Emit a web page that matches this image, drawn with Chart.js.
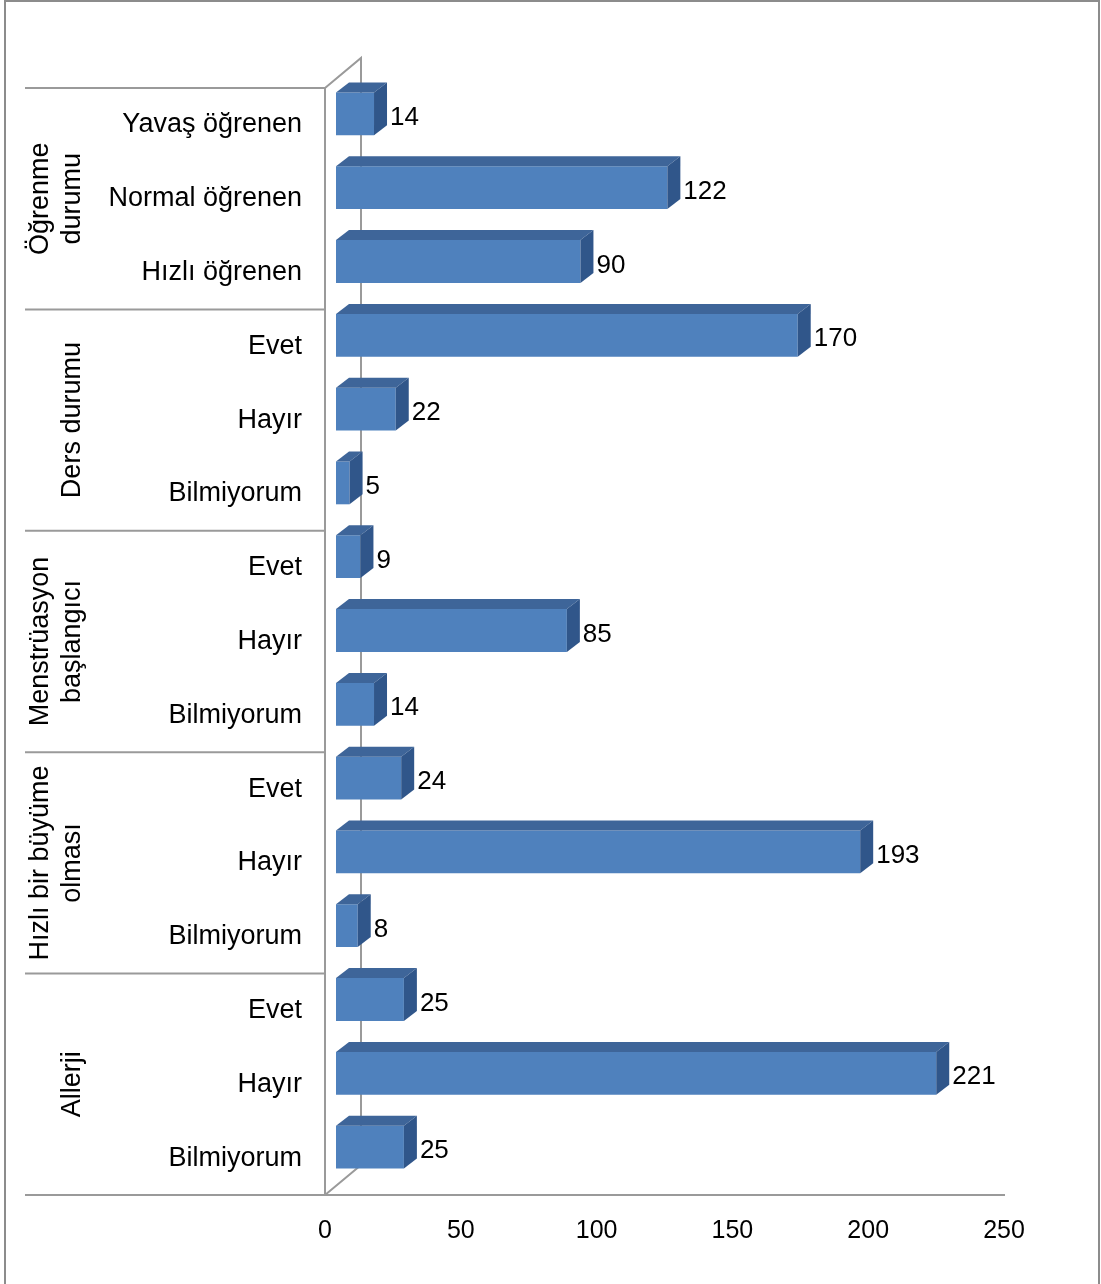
<!DOCTYPE html>
<html>
<head>
<meta charset="utf-8">
<script src="https://cdn.jsdelivr.net/npm/chart.js@4.4.1/dist/chart.umd.min.js"></script>
<style>
  html, body { margin: 0; padding: 0; background: #fff; }
  canvas { display: block; }
</style>
</head>
<body>
<canvas id="chart" width="1101" height="1284"></canvas>
<script>
// categories, top to bottom
const categories = [
    'Yavaş öğrenen', 'Normal öğrenen', 'Hızlı öğrenen',
    'Evet', 'Hayır', 'Bilmiyorum',
    'Evet', 'Hayır', 'Bilmiyorum',
    'Evet', 'Hayır', 'Bilmiyorum',
    'Evet', 'Hayır', 'Bilmiyorum'
];
const values = [14, 122, 90, 170, 22, 5, 9, 85, 14, 24, 193, 8, 25, 221, 25];

// group labels (each spans 3 categories)
const groups = [
    ['Öğrenme', 'durumu'],
    ['Ders durumu'],
    ['Menstrüasyon', 'başlangıcı'],
    ['Hızlı bir büyüme', 'olması'],
    ['Allerji']
];
const groupSize = [3, 3, 3, 3, 3];

const xTicks = [0, 50, 100, 150, 200, 250];

// 3d look
const SHIFT_X = 11, SHIFT_Y = -11;   // bars sit a bit behind the front plane
const DX = 13, DY = -10;             // bar depth
const WALL_X = 36, WALL_Y = -30;     // back wall depth
const LINE = '#9a9a9a';
const FONT = '"Liberation Sans", Arial, sans-serif';

const bar3d = {
    id: 'bar3d',
    beforeDraw(chart) {
        const ctx = chart.ctx;
        const area = chart.chartArea;
        const yScale = chart.scales.y;
        const band = (area.bottom - area.top) / categories.length;

        ctx.save();
        // outer frame
        ctx.strokeStyle = '#8c8c8c';
        ctx.lineWidth = 2;
        ctx.beginPath();
        ctx.moveTo(5, chart.height);
        ctx.lineTo(5, 1);
        ctx.lineTo(1099, 1);
        ctx.lineTo(1099, chart.height);
        ctx.stroke();

        ctx.strokeStyle = LINE;
        ctx.lineWidth = 2;
        // back wall
        ctx.beginPath();
        ctx.moveTo(area.left, area.top);
        ctx.lineTo(area.left + WALL_X, area.top + WALL_Y);
        ctx.lineTo(area.left + WALL_X, area.bottom + WALL_Y);
        ctx.lineTo(area.left, area.bottom);
        ctx.stroke();

        // front axes
        ctx.beginPath();
        ctx.moveTo(area.left, area.top);
        ctx.lineTo(area.left, area.bottom);
        ctx.moveTo(area.left - 7, area.bottom);
        ctx.lineTo(area.right + 1, area.bottom);
        ctx.stroke();

        // group separators and group labels
        let start = 0;
        ctx.beginPath();
        ctx.moveTo(25, area.top);
        ctx.lineTo(area.left, area.top);
        groups.forEach((g, gi) => {
            const end = start + groupSize[gi] - 1;
            const yEnd = yScale.getPixelForValue(end) + band / 2;
            ctx.moveTo(25, yEnd);
            ctx.lineTo(area.left, yEnd);
            start = end + 1;
        });
        ctx.stroke();

        ctx.fillStyle = '#000';
        ctx.font = '27px ' + FONT;
        ctx.textAlign = 'center';
        ctx.textBaseline = 'middle';
        start = 0;
        groups.forEach((g, gi) => {
            const end = start + groupSize[gi] - 1;
            const yc = (yScale.getPixelForValue(start) + yScale.getPixelForValue(end)) / 2;
            const cols = g.length === 2 ? [41, 73] : [73];
            g.forEach((line, li) => {
                ctx.save();
                ctx.translate(cols[li], yc);
                ctx.rotate(-Math.PI / 2);
                ctx.fillText(line, 0, 0);
                ctx.restore();
            });
            start = end + 1;
        });
        ctx.restore();
    },
    beforeDatasetsDraw(chart) {
        chart.ctx.save();
        chart.ctx.translate(SHIFT_X, SHIFT_Y);
    },
    afterDatasetsDraw(chart) {
        const ctx = chart.ctx;
        ctx.restore();
        const meta = chart.getDatasetMeta(0);
        ctx.save();
        meta.data.forEach((bar, i) => {
            const p = bar.getProps(['x', 'y', 'base', 'height'], true);
            const x0 = p.base + SHIFT_X;
            const x1 = p.x + SHIFT_X;
            const top = p.y - p.height / 2 + SHIFT_Y;
            const bot = p.y + p.height / 2 + SHIFT_Y;

            // top face
            ctx.fillStyle = '#3e6599';
            ctx.beginPath();
            ctx.moveTo(x0, top);
            ctx.lineTo(x0 + DX, top + DY);
            ctx.lineTo(x1 + DX, top + DY);
            ctx.lineTo(x1, top);
            ctx.closePath();
            ctx.fill();

            // side face
            ctx.fillStyle = '#30568a';
            ctx.beginPath();
            ctx.moveTo(x1, top);
            ctx.lineTo(x1 + DX, top + DY);
            ctx.lineTo(x1 + DX, bot + DY);
            ctx.lineTo(x1, bot);
            ctx.closePath();
            ctx.fill();

            // value label
            ctx.fillStyle = '#000';
            ctx.font = '26px ' + FONT;
            ctx.textAlign = 'left';
            ctx.textBaseline = 'middle';
            ctx.fillText(String(values[i]), x1 + DX + 3, p.y + SHIFT_Y + 4);
        });
        ctx.restore();
    }
};

new Chart(document.getElementById('chart'), {
    type: 'bar',
    data: {
        labels: categories,
        datasets: [{
            data: values,
            backgroundColor: '#4f81bd',
            borderWidth: 0,
            barPercentage: 0.58,
            categoryPercentage: 1,
            clip: false
        }]
    },
    options: {
        indexAxis: 'y',
        responsive: false,
        animation: false,
        devicePixelRatio: 1,
        layout: { padding: { top: 88, right: 97, left: 0, bottom: 0 } },
        plugins: {
            legend: { display: false },
            tooltip: { enabled: false }
        },
        scales: {
            x: {
                min: 0,
                max: 250,
                afterFit(scale) { scale.height = 89; },
                afterBuildTicks(scale) { scale.ticks = xTicks.map(v => ({ value: v })); },
                grid: { display: false },
                border: { display: false },
                ticks: {
                    color: '#000',
                    padding: 13,
                    font: { family: FONT, size: 25 }
                }
            },
            y: {
                afterFit(scale) { scale.width = 325; },
                grid: { display: false, drawTicks: false },
                border: { display: false },
                ticks: {
                    color: '#000',
                    padding: 23,
                    font: { family: FONT, size: 27 }
                }
            }
        }
    },
    plugins: [bar3d]
});
</script>
</body>
</html>
